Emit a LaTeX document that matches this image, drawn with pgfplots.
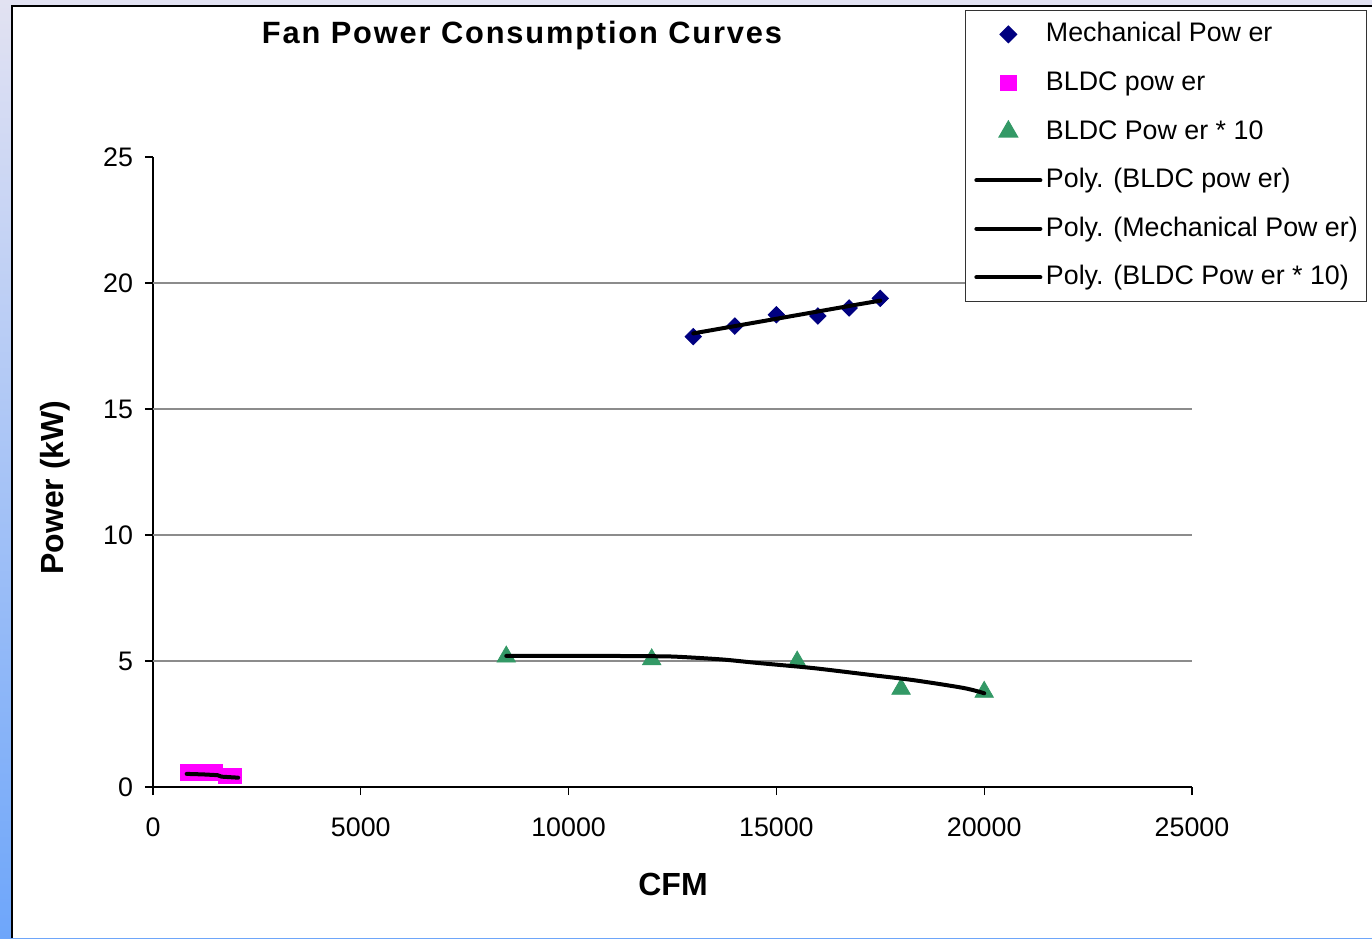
\documentclass[border=0pt]{standalone}
\usepackage{pgfplots}
\pgfplotsset{compat=1.18}
\usepackage{fontspec}
\setmainfont{Liberation Sans}
\definecolor{mechblue}{HTML}{000080}
\definecolor{bldcmag}{HTML}{FF00FF}
\definecolor{bldcgreen}{HTML}{339966}
\definecolor{bgtop}{HTML}{E2E2F2}
\definecolor{bgbot}{HTML}{6EA6FA}
\newcommand{\tfont}{\fontsize{13.4}{16}\selectfont}
\begin{document}
\begin{tikzpicture}
\shade[top color=bgtop, bottom color=bgbot] (0,0) rectangle (686pt,469pt);
\fill[white] (6pt,0) rectangle (686pt,466pt);
\draw[black, line width=0.6pt] (6pt,0) -- (6pt,466pt) -- (686pt,466pt);
\begin{axis}[
  at={(76.5pt,75.5pt)}, anchor=south west,
  scale only axis, width=519.5pt, height=315pt,
  xmin=0, xmax=25000, ymin=0, ymax=25,
  xtick={0,5000,...,25000}, ytick={0,5,...,25},
  axis lines=left, axis line style={-, black, line width=0.6pt},
  tick align=outside, major tick length=4pt,
  tick style={black, line width=0.6pt},
  xtick pos=bottom, ytick pos=left,
  extra y ticks={5,10,15,20}, extra y tick labels={},
  extra y tick style={grid=major, major tick length=0pt, major grid style={gray!90, line width=0.6pt}},
  /pgf/number format/assume math mode=true,
  /pgf/number format/1000 sep={},
  scaled x ticks=false,
  ticklabel style={font=\tfont},
  xticklabel style={yshift=-8pt},
  yticklabel style={xshift=-2.5pt},
  xlabel={CFM},
  xlabel style={at={(axis description cs:0.5005,-0.154)}, anchor=center, font=\fontsize{16}{19}\selectfont\bfseries},
  ylabel={Power (kW)},
  ylabel style={at={(axis description cs:-0.0943,0.4754)}, anchor=center, font=\fontsize{16}{19}\selectfont\bfseries},
  clip=false, clip marker paths=true,
  legend cell align=left,
  legend image code/.code={\draw[mark repeat=2,mark phase=2] plot coordinates {(0pt,0pt)(16pt,0pt)(32pt,0pt)};},
  legend style={at={(axis description cs:0.7815,1.2333)}, anchor=north west,
    draw=black!80, line width=0.6pt, fill=white,
    font=\tfont, row sep=10.9pt, column sep=1.8pt,
    inner xsep=4.4pt, inner ysep=5.2pt,
    nodes={inner sep=0pt, text height=10.4pt, text depth=3pt}},
]
\addplot[only marks, mark=square*, mark size=2.9pt, mark options={rotate=45, fill=mechblue, draw=mechblue}]
  coordinates {(13000,17.87) (14000,18.29) (15000,18.74) (16000,18.69) (16750,19.01) (17500,19.39)};
\addlegendentry{Mechanical Pow er}
\addplot[only marks, mark=square*, mark size=3.9pt, mark options={fill=bldcmag, draw=bldcmag}]
  coordinates {(850,0.58) (1130,0.58) (1490,0.57) (1760,0.44) (1950,0.44)};
\addlegendentry{BLDC pow er}
\addplot[only marks, mark=triangle*, mark size=5.3pt, mark options={fill=bldcgreen, draw=bldcgreen}]
  coordinates {(8500,5.17) (12000,5.06) (15500,4.97) (18000,3.89) (20000,3.77)};
\addlegendentry{BLDC Pow er * 10}
\addplot[black, line width=2pt, line cap=round, mark=none]
  coordinates {(810,0.52) (1200,0.50) (1550,0.47) (1650,0.41) (2050,0.37)};
\addlegendentry{Poly. (BLDC pow er)}
\addplot[black, line width=2pt, line cap=round, mark=none]
  coordinates {(13000,18.0) (14000,18.29) (15000,18.58) (16000,18.87) (17000,19.16) (17500,19.3)};
\addlegendentry{Poly. (Mechanical Pow er)}
\addplot[black, line width=2pt, line cap=round, mark=none, smooth]
  coordinates {(8500,5.2) (10000,5.2) (11000,5.2) (12000,5.19) (12600,5.17) (13700,5.06) (14500,4.93) (15700,4.75) (16300,4.64) (17300,4.44) (18300,4.24) (19500,3.93) (20000,3.72)};
\addlegendentry{Poly. (BLDC Pow er * 10)}
\end{axis}
\node[anchor=base, inner sep=0pt, font=\fontsize{15.4}{18}\selectfont\bfseries\addfontfeature{LetterSpace=6}] at (261pt,447.3pt) {Fan Power Consumption Curves};
\pgfresetboundingbox
\useasboundingbox (0,0) rectangle (686pt,469pt);
\end{tikzpicture}
\end{document}
